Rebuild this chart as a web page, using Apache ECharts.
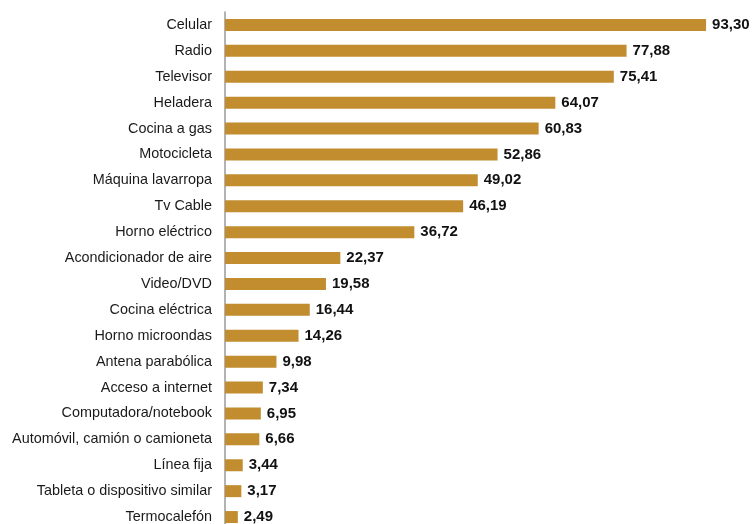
<!DOCTYPE html>
<html><head><meta charset="utf-8">
<script src="https://cdn.jsdelivr.net/npm/echarts@6/dist/echarts.min.js"></script>
<style>html,body{margin:0;padding:0;background:#fff}#c{width:753px;height:524px}</style>
</head><body><div id="c"></div>
<script>
const categories = ["Celular","Radio","Televisor","Heladera","Cocina a gas","Motocicleta","Máquina lavarropa","Tv Cable","Horno eléctrico","Acondicionador de aire","Video/DVD","Cocina eléctrica","Horno microondas","Antena parabólica","Acceso a internet","Computadora/notebook","Automóvil, camión o camioneta","Línea fija","Tableta o dispositivo similar","Termocalefón"];
const values = [93.30,77.88,75.41,64.07,60.83,52.86,49.02,46.19,36.72,22.37,19.58,16.44,14.26,9.98,7.34,6.95,6.66,3.44,3.17,2.49];
const chart = echarts.init(document.getElementById('c'));
chart.setOption({
  animation:false,
  grid:{left:225, top:12, width:515.6, height:518, outerBoundsMode:'none', containLabel:false},
  xAxis:{type:'value', min:0, max:100, show:false},
  yAxis:{type:'category', data:categories, inverse:true,
    axisLine:{show:true, lineStyle:{color:'#9a9a9a', width:1.5}},
    axisTick:{show:false},
    axisLabel:{color:'#1a1a1a', fontSize:14.4, fontFamily:'Liberation Sans, Arial, sans-serif', margin:13}},
  series:[{type:'bar', data:values, barWidth:12,
    itemStyle:{color:'#C18D2E'},
    label:{show:true, position:'right', distance:6, color:'#111', fontWeight:'bold', fontSize:15,
      fontFamily:'Liberation Sans, Arial, sans-serif',
      formatter:p=>p.value.toFixed(2).replace('.',',')}}]
});
</script></body></html>
